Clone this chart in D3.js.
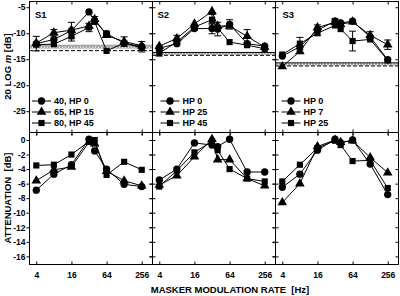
<!DOCTYPE html>
<html>
<head>
<meta charset="utf-8">
<script src="https://cdn.jsdelivr.net/npm/d3@7"></script>
<style>
  body { margin: 0; background: #fff; }
  svg text { font-family: "Liberation Sans", Arial, sans-serif; font-weight: bold; fill: #000; }
</style>
</head>
<body>
<div id="chart"></div>
<script>
//// data
var rates = [4, 8, 16, 32, 40, 64, 128, 256];
var subjects = ["S1", "S2", "S3"];
var shapes = ["circle", "triangle", "square"];

var legendS1 = ["40, HP 0", "65, HP 15", "80, HP 45"];
var legendS2 = ["HP 0", "HP 25", "HP 45"];
var legendS3 = ["HP 0", "HP 7", "HP 25"];

// 20 log m thresholds [dB]
var s1Circle = [-12.0, -11.2, -9.5, -5.9, -7.6, -10.1, -11.9, -12.6];
var s1Tri    = [-11.9, -9.9, -9.4, -8.6, -7.3, -10.4, -11.6, -12.4];
var s1Square = [-12.2, -12.1, -10.6, -8.9, -7.8, -13.4, -11.9, -12.8];
var s2Circle = [-12.9, -12.0, -9.1, -9.1, -9.2, -8.3, -12.0, -12.5];
var s2Tri    = [-12.5, -11.0, -8.2, -5.8, -8.6, -8.6, -10.6, -12.7];
var s2Square = [-13.8, -11.7, -8.8, -7.4, -9.0, -11.7, -12.3, -13.0];
var s3Circle = [-14.4, -12.6, -9.4, -7.7, -8.0, -7.7, -10.7, -15.1];
var s3Tri    = [-16.4, -13.5, -8.9, -7.9, -8.3, -7.8, -10.4, -12.2];
var s3Square = [-14.1, -12.0, -10.0, -8.5, -9.2, -11.5, -11.2, -15.2];

// error bars (0 = none)
var s1CircleErr = [1.4, 0, 0, 0, 0, 0.5, 0, 1.0];
var s1TriErr    = [0, 0.6, 1.5, 0, 0.5, 0, 0.9, 0];
var s1SquareErr = [0, 0, 0.9, 0.8, 0, 0, 0, 0];
var s2CircleErr = [0.5, 0, 0, 1.0, 1.3, 0.9, 0, 0];
var s2TriErr    = [0, 0.6, 0, 0, 0, 0, 1.3, 0];
var s2SquareErr = [0.6, 0, 0, 1.0, 0, 0, 0, 0];
var s3CircleErr = [0, 0, 1.0, 0.5, 0, 0, 0, 0];
var s3TriErr    = [0, 0, 0, 0, 0, 0, 0.7, 0.9];
var s3SquareErr = [0, 1.2, 0, 0, 0, 1.9, 0, 0];

// attenuation [dB]
var a1Circle = [-6.9, -4.7, -3.4, 0.1, -1.5, -4.0, -6.1, -6.4];
var a1Tri    = [-5.6, -4.1, -3.7, -0.3, -0.5, -4.3, -5.6, -6.3];
var a1Square = [-3.5, -3.4, -2.0, -0.2, 0.0, -4.8, -3.0, -4.1];
var a2Circle = [-5.5, -4.0, -0.4, -0.7, -0.9, 0.1, -4.4, -4.4];
var a2Tri    = [-6.2, -4.9, -2.3, 0.1, -2.7, -2.7, -5.3, -6.3];
var a2Square = [-6.4, -4.2, -1.7, -0.2, -1.4, -4.0, -5.3, -5.7];
var a3Circle = [-6.5, -4.7, -1.4, 0.1, -0.4, 0.0, -3.3, -7.5];
var a3Tri    = [-8.6, -6.0, -0.9, 0.0, -0.3, -0.1, -2.4, -4.5];
var a3Square = [-5.7, -3.4, -1.1, -0.1, -0.7, -2.9, -2.8, -6.6];

// reference lines in the top panels
var bandLo   = [-12.95, -14.15, -16.2];
var bandHi   = [-12.2, -13.75, -15.75];
var solidAt  = [null, -13.7, -15.7];
var dottedAt = [-12.7, -13.95, -15.95];
var dashedAt = [-13.35, -14.25, -16.3];

var xTicks = [4, 16, 64, 256];
var topTicks = [-5, -10, -15, -20, -25];
var botTicks = [0, -2, -4, -6, -8, -10, -12, -14, -16];

var topData = [[s1Circle, s1Tri, s1Square], [s2Circle, s2Tri, s2Square], [s3Circle, s3Tri, s3Square]];
var topErr = [[s1CircleErr, s1TriErr, s1SquareErr], [s2CircleErr, s2TriErr, s2SquareErr], [s3CircleErr, s3TriErr, s3SquareErr]];
var botData = [[a1Circle, a1Tri, a1Square], [a2Circle, a2Tri, a2Square], [a3Circle, a3Tri, a3Square]];
var legends = [legendS1, legendS2, legendS3];

//// layout
var W = 400, H = 296;
var panelX = [29, 152, 275], panelW = 123;
var yTopEdge = 1, yMid = 132, yBottom = 264;
var legendDx = [3, 8.5, 6.5];
var labelDx = [6, 5.5, 7.5];

var svg = d3.select("#chart").append("svg")
  .attr("width", W).attr("height", H);

var yTop = d3.scaleLinear().domain([-29, -3.8]).range([yMid, yTopEdge]);
var yBot = d3.scaleLinear().domain([-17.05, 1.1]).range([yBottom, yMid]);

var sym = {
  circle: d3.symbol().type(d3.symbolCircle).size(42),
  triangle: d3.symbol().type(d3.symbolTriangle).size(40),
  square: d3.symbol().type(d3.symbolSquare).size(38)
};

// plain hyphen for negative tick labels
var hyph = d => String(d);

function drawPanel(p, y, series, errs, isTop) {
  var x0 = panelX[p];
  var x = d3.scaleLog().base(2).domain([3, 384]).range([x0, x0 + panelW]);
  var g = svg.append("g");
  var y0 = y.range()[1], y1 = y.range()[0];

  // reference lines
  if (isTop) {
    g.append("rect")
      .attr("x", x0).attr("width", panelW)
      .attr("y", y(bandHi[p])).attr("height", y(bandLo[p]) - y(bandHi[p]))
      .attr("fill", "#a8a8a8");
    if (solidAt[p] !== null) {
      g.append("line").attr("x1", x0).attr("x2", x0 + panelW)
        .attr("y1", y(solidAt[p])).attr("y2", y(solidAt[p]))
        .attr("stroke", "#000").attr("stroke-width", 1);
    }
    g.append("line").attr("x1", x0).attr("x2", x0 + panelW)
      .attr("y1", y(dottedAt[p])).attr("y2", y(dottedAt[p]))
      .attr("stroke", "#fff").attr("stroke-width", 1).attr("stroke-dasharray", "1,2");
    g.append("line").attr("x1", x0).attr("x2", x0 + panelW)
      .attr("y1", y(dashedAt[p])).attr("y2", y(dashedAt[p]))
      .attr("stroke", "#000").attr("stroke-width", 1).attr("stroke-dasharray", "4,2");
  }

  // axes / ticks
  var leftOut = d3.axisLeft(y).tickValues(isTop ? topTicks : botTicks).tickSize(3).tickPadding(1)
    .tickFormat(p === 0 ? hyph : "");
  var gl = g.append("g").attr("transform", "translate(" + (x0 + 0.5) + ",0)").call(leftOut);
  gl.selectAll("text").attr("font-size", 8.5);
  if (p > 0) {
    g.append("g").attr("transform", "translate(" + (x0 + 0.5) + ",0)")
      .call(d3.axisRight(y).tickValues(isTop ? topTicks : botTicks).tickSize(3).tickFormat(""));
  }
  g.append("g").attr("transform", "translate(" + (x0 + panelW + 0.5) + ",0)")
    .call(d3.axisLeft(y).tickValues(isTop ? topTicks : botTicks).tickSize(3).tickFormat(""));

  g.append("g").attr("transform", "translate(0," + (y0 + 0.5) + ")")
    .call(d3.axisBottom(x).tickValues(xTicks).tickSize(3).tickFormat(""));
  var gb = g.append("g").attr("transform", "translate(0," + (y1 + 0.5) + ")")
    .call(d3.axisBottom(x).tickValues(xTicks).tickSize(isTop ? 3 : -3).tickPadding(7)
      .tickFormat(isTop ? "" : hyph));
  gb.selectAll("text").attr("font-size", 8.5);
  if (isTop) {
    g.append("g").attr("transform", "translate(0," + (y1 + 0.5) + ")")
      .call(d3.axisTop(x).tickValues(xTicks).tickSize(3).tickFormat(""));
  }
  g.selectAll(".domain").remove();
  g.selectAll(".tick line").attr("stroke", "#000");

  // frame
  g.append("rect")
    .attr("x", x0 + 0.5).attr("y", y0 + 0.5)
    .attr("width", panelW).attr("height", y1 - y0)
    .attr("fill", "none").attr("stroke", "#000").attr("stroke-width", 1);

  var line = d3.line().x((d, i) => x(rates[i])).y(d => y(d));

  series.forEach(function (vals, s) {
    g.append("path").datum(vals)
      .attr("d", line).attr("fill", "none")
      .attr("stroke", "#000").attr("stroke-width", 1);

    if (errs) {
      var e = errs[s];
      vals.forEach(function (v, i) {
        if (!e[i]) return;
        var cx = x(rates[i]);
        g.append("line").attr("x1", cx).attr("x2", cx)
          .attr("y1", y(v + e[i])).attr("y2", y(v - e[i]))
          .attr("stroke", "#000").attr("stroke-width", 1);
        [v + e[i], v - e[i]].forEach(function (ev) {
          g.append("line").attr("x1", cx - 3.5).attr("x2", cx + 3.5)
            .attr("y1", y(ev)).attr("y2", y(ev))
            .attr("stroke", "#000").attr("stroke-width", 1);
        });
      });
    }

    g.selectAll(".m" + s).data(vals).enter()
      .append("path")
      .attr("class", "m" + s)
      .attr("d", sym[shapes[s]])
      .attr("transform", (d, i) => "translate(" + x(rates[i]) + "," + y(d) + ")")
      .attr("fill", "#000");
  });

  if (isTop) {
    g.append("text")
      .attr("x", x0 + labelDx[p]).attr("y", 17.5)
      .attr("font-size", 9.5)
      .text(subjects[p]);

    var lx = x0 + legendDx[p];
    legends[p].forEach(function (lab, s) {
      var ly = 101 + s * 11;
      g.append("line").attr("x1", lx).attr("x2", lx + 19)
        .attr("y1", ly).attr("y2", ly)
        .attr("stroke", "#000").attr("stroke-width", 1);
      g.append("path").attr("d", sym[shapes[s]])
        .attr("transform", "translate(" + (lx + 9.5) + "," + ly + ")")
        .attr("fill", "#000");
      g.append("text")
        .attr("x", lx + 22).attr("y", ly + 3.3)
        .attr("font-size", 9)
        .text(lab);
    });
  }
}

subjects.forEach(function (s, p) {
  drawPanel(p, yTop, topData[p], topErr[p], true);
  drawPanel(p, yBot, botData[p], null, false);
});

// axis titles
var t1 = svg.append("text")
  .attr("transform", "translate(11," + ((yTopEdge + yMid) / 2) + ") rotate(-90)")
  .attr("text-anchor", "middle").attr("font-size", 9.5);
t1.append("tspan").text("20 LOG ");
t1.append("tspan").attr("font-style", "italic").text("m");
t1.append("tspan").text(" [dB]");

svg.append("text")
  .attr("transform", "translate(11," + ((yMid + yBottom) / 2) + ") rotate(-90)")
  .attr("text-anchor", "middle").attr("font-size", 9.5)
  .attr("xml:space", "preserve")
  .text("ATTENUATION  [dB]");

svg.append("text")
  .attr("x", 230).attr("y", 293)
  .attr("text-anchor", "middle").attr("font-size", 9.5)
  .attr("xml:space", "preserve")
  .text("MASKER MODULATION RATE  [Hz]");
</script>
</body>
</html>
